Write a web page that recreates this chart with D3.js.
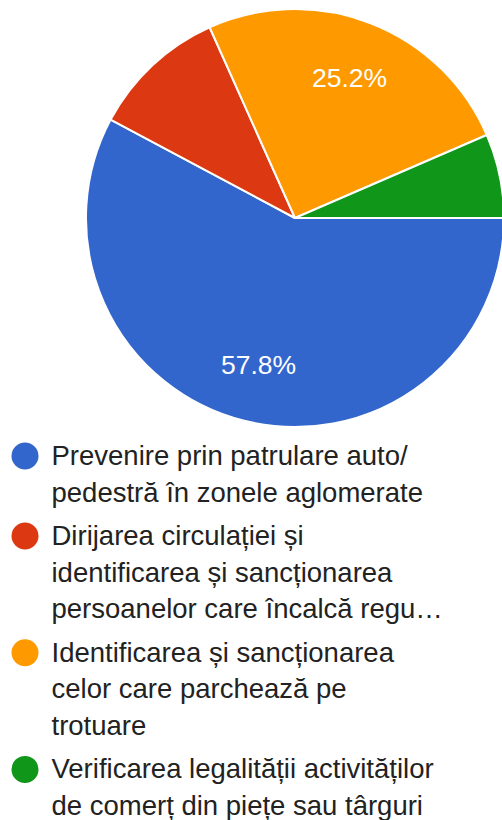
<!DOCTYPE html>
<html>
<head>
<meta charset="utf-8">
<script src="https://cdn.jsdelivr.net/npm/d3@7"></script>
<style>
  html, body { margin: 0; padding: 0; background: #fff; }
  svg { display: block; }
</style>
</head>
<body>
<svg id="chart" width="502" height="820"></svg>
<script>
const categories = [
  ["Prevenire prin patrulare auto/", "pedestră în zonele aglomerate"],
  ["Dirijarea circulației și", "identificarea și sancționarea", "persoanelor care încalcă regu…"],
  ["Identificarea și sancționarea", "celor care parchează pe", "trotuare"],
  ["Verificarea legalității activităților", "de comerț din piețe sau târguri"]
];
const values = [57.8, 10.5, 25.2, 6.5];
const shownLabels = ["57.8%", null, "25.2%", null];
const colors = ["#3366cc", "#dc3912", "#ff9900", "#109618"];

const svg = d3.select("#chart");
const cx = 295, cy = 218, R = 209;

const pie = d3.pie().sort(null).value(d => d)
  .startAngle(Math.PI / 2).endAngle(Math.PI / 2 + 2 * Math.PI);
const arcs = pie(values);
const arc = d3.arc().innerRadius(0).outerRadius(R);
const labelArc = d3.arc().innerRadius(R * 0.72).outerRadius(R * 0.72);

const g = svg.append("g").attr("transform", `translate(${cx},${cy})`);
g.selectAll("path").data(arcs).join("path")
  .attr("d", arc)
  .attr("fill", (d, i) => colors[i])
  .attr("stroke", "#fff")
  .attr("stroke-width", 2)
  .attr("stroke-linejoin", "round");

g.selectAll("text.lbl").data(arcs).join("text")
  .attr("class", "lbl")
  .filter((d, i) => shownLabels[i])
  .attr("x", d => labelArc.centroid(d)[0])
  .attr("y", d => labelArc.centroid(d)[1])
  .attr("dy", "0.36em")
  .attr("text-anchor", "middle")
  .attr("font-family", "'Liberation Sans', Arial, sans-serif")
  .attr("font-size", 26.5)
  .attr("fill", "#fff")
  .text((d, i) => shownLabels[d.index]);

// Legend
const lineH = 36.7, groupGap = 6.6;
const legend = svg.append("g").attr("transform", "translate(0,465)");
let y = 0;
categories.forEach((lines, i) => {
  const item = legend.append("g").attr("transform", `translate(0,${y})`);
  item.append("circle").attr("cx", 25).attr("cy", -9).attr("r", 13.5).attr("fill", colors[i]);
  const t = item.append("text")
    .attr("font-family", "'Liberation Sans', Arial, sans-serif")
    .attr("font-size", 27.5)
    .attr("fill", "#222222");
  lines.forEach((ln, j) => {
    t.append("tspan").attr("x", 51.5).attr("y", j * lineH).text(ln);
  });
  y += lines.length * lineH + groupGap;
});
</script>
</body>
</html>
